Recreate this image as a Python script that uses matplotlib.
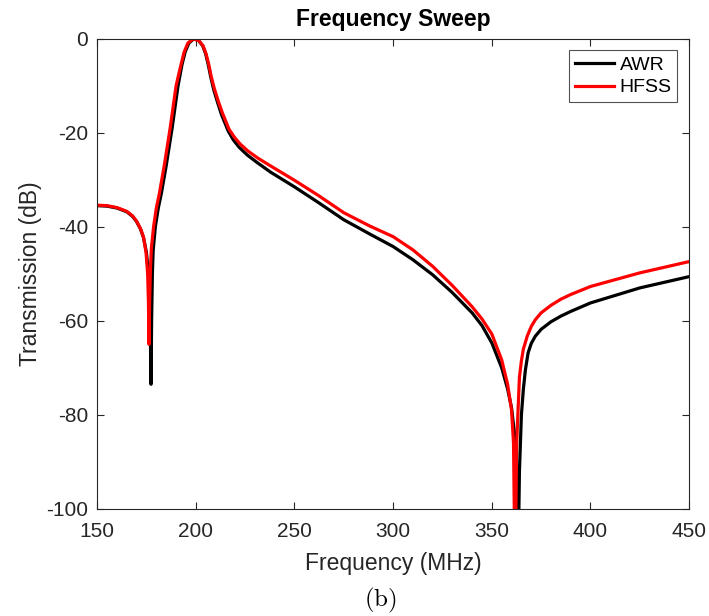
import numpy as np
import matplotlib.pyplot as plt

plt.rcParams['font.family'] = ['Liberation Sans', 'DejaVu Sans']
plt.rcParams['axes.unicode_minus'] = False
plt.rcParams['mathtext.fontset'] = 'cm'

# frequency (MHz) and transmission (dB)
awr_freq = [150, 155, 160, 165, 168, 170, 172, 173.5, 175, 176, 176.6, 177.0, 177.3,
            177.6, 178.0, 178.4, 179.5, 181, 182.5, 185, 188, 191, 193, 194.6, 196.5,
            199, 201.5, 203.5, 205, 206.3, 207.5, 209, 211, 213, 216.4, 219, 222, 226, 231,
            238, 250, 262, 275, 288, 300, 310, 320, 330, 340, 345, 350, 355, 358, 360,
            361.5, 362.5, 363.2, 364.0, 365, 366, 367, 368.4, 370, 372, 375, 380, 385,
            390, 400, 425, 450]
awr_db = [-35.5, -35.6, -36.0, -36.8, -37.8, -38.9, -40.5, -42.3, -45.5, -50, -56, -64, -73.5,
          -60, -50, -45, -40, -36, -33, -27, -19, -10, -5.5, -2.8, -0.9,
          0, -0.4, -1.5, -3.2, -5.5, -8, -10.7, -13.5, -16.1, -19.6, -21.5, -23.1, -24.7, -26.3,
          -28.4, -31.5, -34.8, -38.5, -41.5, -44.2, -47, -50.2, -54, -58.3, -61, -64.7, -70,
          -74.5, -78.5, -84, -92, -115, -92, -80, -74.5, -70.5, -66.8, -64.8, -63.3, -61.8,
          -60.2, -59, -58, -56.2, -53, -50.6]

hfss_freq = [150, 155, 160, 165, 168, 170, 172, 173.5, 174.8, 175.6, 176.0, 176.3,
             176.6, 177.0, 177.5, 178.6, 180, 181.5, 184, 187, 190, 192.5, 194.1, 196,
             198.7, 201.5, 203.7, 205.2, 206.6, 207.8, 209.4, 211.4, 213.5, 216.8, 219.5, 222.5,
             226.5, 231.5, 238.5, 250, 262, 275, 288, 300, 310, 320, 330, 340, 345, 350,
             355, 358, 360, 361.0, 361.8, 362.6, 363.5, 364, 365, 366, 368, 370, 372, 375,
             380, 385, 390, 400, 425, 450]
hfss_db = [-35.4, -35.5, -35.9, -36.7, -37.7, -38.8, -40.4, -42.2, -45.5, -50, -56, -65,
           -56, -49, -44.5, -40, -36, -33, -27, -19, -10, -5.5, -2.8, -0.9,
           0, -0.4, -1.5, -3.2, -5.5, -8, -10.6, -13.3, -15.8, -19.2, -20.9, -22.4,
           -23.9, -25.4, -27.2, -30.1, -33.3, -37, -39.8, -42.1, -44.9, -48.4, -52.5, -57,
           -59.6, -62.8, -68.3, -73.5, -79, -86, -115, -86, -77, -72, -68.5, -66, -63.2,
           -61.2, -59.8, -58.3, -56.7, -55.4, -54.4, -52.7, -49.8, -47.4]

fig, ax = plt.subplots(figsize=(7.09, 6.16), dpi=100)
fig.subplots_adjust(left=0.137, right=0.972, top=0.937, bottom=0.174)

ax.plot(awr_freq, awr_db, color='black', lw=2.3, label='AWR')
ax.plot(hfss_freq, hfss_db, color='red', lw=2.3, label='HFSS')

ax.set_xlim(150, 450)
ax.set_ylim(-100, 0)
ax.set_xticks(np.arange(150, 451, 50))
ax.set_yticks(np.arange(-100, 1, 20))

dark = '#262626'
for s in ax.spines.values():
    s.set_color(dark)
    s.set_linewidth(0.8)
ax.tick_params(direction='in', length=5, width=0.8, top=True, right=True,
               colors=dark, labelsize=15, labelcolor=dark)
ax.tick_params(axis='x', pad=9.5)
ax.tick_params(axis='y', pad=6.5)

ax.set_title('Frequency Sweep', fontsize=16.5, fontweight='bold', color='black', pad=9)
ax.set_xlabel('Frequency (MHz)', fontsize=16.5, color=dark, labelpad=8)
ax.set_ylabel('Transmission (dB)', fontsize=16.5, color=dark, labelpad=3)

leg = ax.legend(loc='upper right', fontsize=14, frameon=True, fancybox=False,
                edgecolor=dark, handlelength=2.0, handletextpad=0.3,
                borderpad=0.3, labelspacing=0.25, borderaxespad=0.6)
leg.get_frame().set_linewidth(0.8)

fig.text(0.536, 0.026, r'$\mathrm{(b)}$', ha='center', va='center', fontsize=18)

plt.savefig('out.png', dpi=100)
